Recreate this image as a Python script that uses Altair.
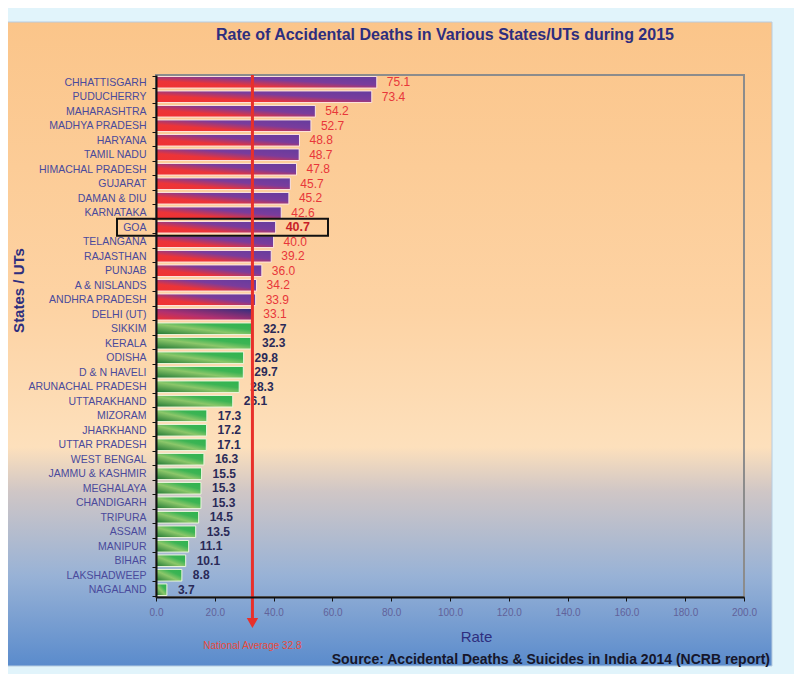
import altair as alt
import pandas as pd

states = ["CHHATTISGARH", "PUDUCHERRY", "MAHARASHTRA", "MADHYA PRADESH", "HARYANA",
          "TAMIL NADU", "HIMACHAL PRADESH", "GUJARAT", "DAMAN & DIU", "KARNATAKA",
          "GOA", "TELANGANA", "RAJASTHAN", "PUNJAB", "A & NISLANDS", "ANDHRA PRADESH",
          "DELHI (UT)", "SIKKIM", "KERALA", "ODISHA", "D & N HAVELI", "ARUNACHAL PRADESH",
          "UTTARAKHAND", "MIZORAM", "JHARKHAND", "UTTAR PRADESH", "WEST BENGAL",
          "JAMMU & KASHMIR", "MEGHALAYA", "CHANDIGARH", "TRIPURA", "ASSAM", "MANIPUR",
          "BIHAR", "LAKSHADWEEP", "NAGALAND"]
rates = [75.1, 73.4, 54.2, 52.7, 48.8, 48.7, 47.8, 45.7, 45.2, 42.6, 40.7, 40.0, 39.2,
         36.0, 34.2, 33.9, 33.1, 32.7, 32.3, 29.8, 29.7, 28.3, 26.1, 17.3, 17.2, 17.1,
         16.3, 15.5, 15.3, 15.3, 14.5, 13.5, 11.1, 10.1, 8.8, 3.7]
national_average = 32.8
highlight_state = "GOA"
special_state = "DELHI (UT)"
x_ticks = [0, 20, 40, 60, 80, 100, 120, 140, 160, 180, 200]

title_text = "Rate of Accidental Deaths in Various States/UTs during 2015"
source_text = "Source: Accidental Deaths & Suicides in India 2014 (NCRB report)"
avg_text = "National Average 32.8"

df = pd.DataFrame({"state": states, "rate": rates})
df["label"] = df["rate"].map(lambda v: f"{v:.1f}")
one = pd.DataFrame({"a": [0]})

NAVY = "#2e2e7e"
FONT = "Liberation Sans"

y_enc = alt.Y("state:N", sort=states,
              scale=alt.Scale(paddingInner=0.2, paddingOuter=0.1),
              axis=alt.Axis(title="States / UTs", titleFontSize=15, titleFontWeight="bold",
                            titleColor=NAVY, titleFont=FONT, titleX=-130, titleY=215,
                            titleBaseline="bottom",
                            labelFont=FONT, labelFontSize=10.5, labelColor="#4a4a9c",
                            labelFontWeight="normal",
                            labelPadding=6, tickBand="extent", tickSize=4,
                            tickColor="#111111", domainColor="#111111", domainWidth=2,
                            zindex=2))
y_plain = alt.Y("state:N", sort=states)
x_enc = alt.X("rate:Q", scale=alt.Scale(domain=[0, 200], nice=False),
              axis=alt.Axis(title="Rate", values=x_ticks, format=".1f", titleFontSize=15,
                            titleFontWeight="normal", titleColor=NAVY, titleFont=FONT,
                            titleX=320, titlePadding=12, labelFlush=False,
                            labelFont=FONT, labelFontSize=10, labelColor="#62629a",
                            labelPadding=6, tickSize=4, tickColor="#111111",
                            domainColor="#111111", domainWidth=2, grid=False, zindex=2))

panel_fill = {"gradient": "linear", "x1": 0, "y1": 0, "x2": 0, "y2": 1,
              "stops": [{"offset": 0, "color": "#fbc58a"},
                        {"offset": 0.45, "color": "#fdd3a4"},
                        {"offset": 0.66, "color": "#fde0bc"},
                        {"offset": 0.73, "color": "#cfc6c6"},
                        {"offset": 0.86, "color": "#98b2d6"},
                        {"offset": 1, "color": "#5a8bcc"}]}
red_fill = {"gradient": "linear", "x1": 0, "y1": 1, "x2": 1, "y2": 0,
            "stops": [{"offset": 0, "color": "#f03232"},
                      {"offset": 0.3, "color": "#ec3438"},
                      {"offset": 0.62, "color": "#7a3c9c"},
                      {"offset": 1, "color": "#643c9e"}]}
delhi_fill = {"gradient": "linear", "x1": 0, "y1": 1, "x2": 1, "y2": 0,
              "stops": [{"offset": 0, "color": "#f03232"},
                        {"offset": 0.4, "color": "#b03070"},
                        {"offset": 1, "color": "#2a2e80"}]}
green_fill = {"gradient": "linear", "x1": 0, "y1": 1, "x2": 1, "y2": 0,
              "stops": [{"offset": 0, "color": "#1f7634"},
                        {"offset": 0.45, "color": "#8cc76a"},
                        {"offset": 0.7, "color": "#3cb454"},
                        {"offset": 1, "color": "#2db34f"}]}

background = alt.Chart(one).mark_rect(fill=panel_fill, stroke="#b8cce0", strokeWidth=1).encode(
    x=alt.value(-153), x2=alt.value(616), y=alt.value(-53), y2=alt.value(591))

base = alt.Chart(df)
above = f"datum.rate > {national_average} && datum.state != '{special_state}'"
below = f"datum.rate <= {national_average}"

bars_red = base.transform_filter(above).mark_bar(fill=red_fill, stroke="#fde6e0", strokeWidth=1).encode(
    x=x_enc, y=y_enc)
bars_delhi = base.transform_filter(f"datum.state == '{special_state}'").mark_bar(
    fill=delhi_fill, stroke="#fde6e0", strokeWidth=1).encode(x="rate:Q", y=y_plain)
bars_green = base.transform_filter(below).mark_bar(fill=green_fill, stroke="#eaf6dc", strokeWidth=1).encode(
    x="rate:Q", y=y_plain)

lab_red = base.transform_filter(f"datum.rate > {national_average} && datum.state != '{highlight_state}'").mark_text(
    align="left", baseline="middle", dx=10, font=FONT, fontSize=12, color="#e8363a").encode(
    x="rate:Q", y=y_plain, text="label:N")
lab_goa = base.transform_filter(f"datum.state == '{highlight_state}'").mark_text(
    align="left", baseline="middle", dx=10, font=FONT, fontSize=12.5, fontWeight="bold",
    color="#c81e28").encode(x="rate:Q", y=y_plain, text="label:N")
lab_green = base.transform_filter(below).mark_text(
    align="left", baseline="middle", dx=11, font=FONT, fontSize=12, fontWeight="bold",
    color="#2a2a58").encode(x="rate:Q", y=y_plain, text="label:N")

goa_box = base.transform_filter(f"datum.state == '{highlight_state}'").mark_bar(
    height=17, fill=None, fillOpacity=0, stroke="#111111", strokeWidth=2).encode(
    x=alt.value(-39), x2=alt.value(172), y=y_plain)

frame = alt.Chart(one).mark_rect(fill=None, fillOpacity=0, stroke="#8c8c8c", strokeWidth=2).encode(
    x=alt.value(0), x2=alt.value(588), y=alt.value(0), y2=alt.value(522))

avg_rule = alt.Chart(one).mark_rule(color="#e8302a", strokeWidth=3).encode(
    x=alt.datum(national_average), y=alt.value(0), y2=alt.value(546))
avg_arrow = alt.Chart(one).mark_point(shape="triangle-down", filled=True, size=130,
                                      color="#e8302a", opacity=1).encode(
    x=alt.datum(national_average), y=alt.value(548))
avg_label = alt.Chart(one).mark_text(font=FONT, fontSize=10, color="#e84a3a",
                                     baseline="middle").encode(
    x=alt.datum(national_average), y=alt.value(571), text=alt.value(avg_text))

title = alt.Chart(one).mark_text(font=FONT, fontSize=16, fontWeight="bold", color=NAVY,
                                 baseline="middle").encode(
    x=alt.value(289), y=alt.value(-40), text=alt.value(title_text))
source = alt.Chart(one).mark_text(font=FONT, fontSize=14, fontWeight="bold", color="#16162a",
                                  align="right", baseline="middle").encode(
    x=alt.value(614), y=alt.value(585), text=alt.value(source_text))

chart = alt.layer(background, bars_red, bars_delhi, bars_green, frame, lab_red, lab_goa,
                  lab_green, goa_box, avg_rule, avg_arrow, avg_label, title, source).properties(
    width=588, height=522,
    autosize=alt.AutoSizeParams(type="none"),
    padding={"left": 148, "top": 67, "right": 50, "bottom": 77},
    background="#e1f4fb",
).configure_view(stroke=None)

chart.save("out.html", embed_options={"renderer": "svg", "actions": False})
